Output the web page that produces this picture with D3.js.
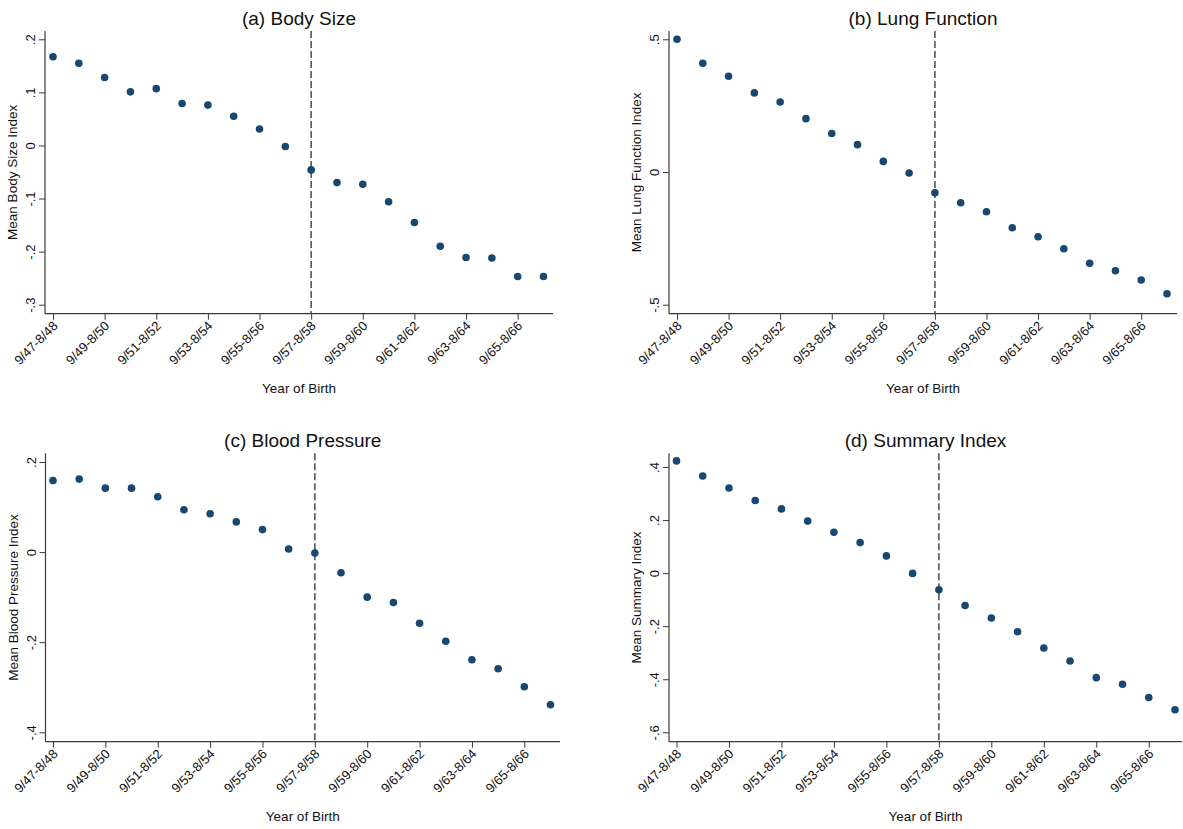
<!DOCTYPE html>
<html>
<head>
<meta charset="utf-8">
<script src="https://cdn.jsdelivr.net/npm/d3@7"></script>
<style>
  html, body { margin: 0; padding: 0; background: #fff; }
  svg { display: block; font-family: "Liberation Sans", Arial, Helvetica, sans-serif; }
</style>
</head>
<body>
<svg id="chart" width="1183" height="829"></svg>
<script>
// ---- data ----
const categories = ["9/47-8/48","9/48-8/49","9/49-8/50","9/50-8/51","9/51-8/52","9/52-8/53","9/53-8/54","9/54-8/55","9/55-8/56","9/56-8/57",
                    "9/57-8/58","9/58-8/59","9/59-8/60","9/60-8/61","9/61-8/62","9/62-8/63","9/63-8/64","9/64-8/65","9/65-8/66","9/66-8/67"];
const tickLabels = ["9/47-8/48","9/49-8/50","9/51-8/52","9/53-8/54","9/55-8/56","9/57-8/58","9/59-8/60","9/61-8/62","9/63-8/64","9/65-8/66"];
const cutoff = "9/57-8/58";

const bodySize      = [0.167, 0.155, 0.128, 0.101, 0.107, 0.079, 0.076, 0.055, 0.031, -0.002,
                       -0.046, -0.070, -0.073, -0.106, -0.145, -0.190, -0.211, -0.212, -0.247, -0.247];
const lungFunction  = [0.500, 0.410, 0.361, 0.298, 0.264, 0.201, 0.145, 0.103, 0.040, -0.004,
                       -0.078, -0.116, -0.150, -0.210, -0.244, -0.289, -0.344, -0.372, -0.407, -0.459];
const bloodPressure = [0.159, 0.162, 0.142, 0.142, 0.123, 0.094, 0.085, 0.067, 0.050, 0.007,
                       -0.002, -0.046, -0.100, -0.112, -0.158, -0.198, -0.239, -0.259, -0.299, -0.339];
const summaryIndex  = [0.423, 0.366, 0.321, 0.274, 0.242, 0.196, 0.154, 0.115, 0.065, -0.001,
                       -0.063, -0.122, -0.169, -0.221, -0.282, -0.331, -0.394, -0.419, -0.469, -0.515];

const ticksA = [-0.3, -0.2, -0.1, 0, 0.1, 0.2];
const ticksB = [-0.5, 0, 0.5];
const ticksC = [-0.4, -0.2, 0, 0.2];
const ticksD = [-0.6, -0.4, -0.2, 0, 0.2, 0.4];

const titles = ["(a) Body Size", "(b) Lung Function", "(c) Blood Pressure", "(d) Summary Index"];
const yTitles = ["Mean Body Size Index", "Mean Lung Function Index", "Mean Blood Pressure Index", "Mean Summary Index"];
const xTitle = "Year of Birth";

// ---- layout (positions/sizes) ----
const panels = [
  { values: bodySize,      ticks: ticksA, title: titles[0], yTitle: yTitles[0],
    axisX: 45,  x0: 53,  x1: 543.5, right: 553, top: 31,    bottom: 313.7, yTop: 39.3,  yBot: 304.7 },
  { values: lungFunction,  ticks: ticksB, title: titles[1], yTitle: yTitles[1],
    axisX: 669, x0: 677, x1: 1167,  right: 1177, top: 31,   bottom: 313.7, yTop: 39.3,  yBot: 304.7 },
  { values: bloodPressure, ticks: ticksC, title: titles[2], yTitle: yTitles[2],
    axisX: 45.5, x0: 53, x1: 550.5, right: 560, top: 453.3, bottom: 741.7, yTop: 462,   yBot: 732.3 },
  { values: summaryIndex,  ticks: ticksD, title: titles[3], yTitle: yTitles[3],
    axisX: 669, x0: 676.5, x1: 1175, right: 1182, top: 453.3, bottom: 741.7, yTop: 467, yBot: 732.3 }
];

const fmt = d => d === 0 ? "0" : String(+d.toFixed(2)).replace("0.", ".");
const svg = d3.select("#chart");
const axisColor = "#3a3a3a";
const dotColor = "#1a476f";

panels.forEach(p => {
  const g = svg.append("g");
  const x = d3.scalePoint().domain(categories).range([p.x0, p.x1]);
  const y = d3.scaleLinear()
    .domain([d3.min(p.ticks), d3.max(p.ticks)])
    .range([p.yBot, p.yTop]);

  // y axis
  const ya = g.append("g").attr("transform", `translate(${p.axisX},0)`)
    .call(d3.axisLeft(y).tickValues(p.ticks).tickFormat(fmt).tickSize(6).tickSizeOuter(0));
  ya.select(".domain").remove();
  ya.selectAll(".tick line").attr("stroke", axisColor);
  ya.selectAll(".tick text")
    .attr("x", null).attr("dy", null)
    .attr("text-anchor", "middle")
    .attr("transform", "translate(-10,0) rotate(-90)")
    .attr("fill", "#111")
    .style("font-size", "13px");
  g.append("line").attr("x1", p.axisX).attr("x2", p.axisX).attr("y1", p.top).attr("y2", p.bottom)
    .attr("stroke", axisColor).attr("stroke-width", 1.2);

  // x axis
  const xa = g.append("g").attr("transform", `translate(0,${p.bottom})`)
    .call(d3.axisBottom(x).tickValues(tickLabels).tickSize(6).tickSizeOuter(0));
  xa.select(".domain").remove();
  xa.selectAll(".tick line").attr("stroke", axisColor);
  xa.selectAll(".tick text")
    .attr("y", null).attr("dy", null)
    .attr("text-anchor", "end")
    .attr("transform", "translate(5,13) rotate(-45)")
    .attr("fill", "#111")
    .style("font-size", "13px");
  g.append("line").attr("x1", p.axisX).attr("x2", p.right).attr("y1", p.bottom).attr("y2", p.bottom)
    .attr("stroke", axisColor).attr("stroke-width", 1.2);

  // cutoff dashed line
  g.append("line")
    .attr("x1", x(cutoff)).attr("x2", x(cutoff))
    .attr("y1", p.top).attr("y2", p.bottom)
    .attr("stroke", "#555").attr("stroke-width", 1.6)
    .attr("stroke-dasharray", "7,3");

  // points
  g.append("g").selectAll("circle").data(p.values).enter().append("circle")
    .attr("cx", (d, i) => x(categories[i]))
    .attr("cy", d => y(d))
    .attr("r", 3.8)
    .attr("fill", dotColor);

  const cx = (p.axisX + p.right) / 2;
  // title
  g.append("text").attr("x", cx).attr("y", p.top - 6)
    .attr("text-anchor", "middle").style("font-size", "19px").attr("fill", "#111")
    .text(p.title);
  // x title
  g.append("text").attr("x", cx).attr("y", p.bottom + 79)
    .attr("text-anchor", "middle").style("font-size", "13.5px").attr("fill", "#111")
    .text(xTitle);
  // y title
  g.append("text")
    .attr("transform", `translate(${p.axisX - 28},${(p.top + p.bottom) / 2}) rotate(-90)`)
    .attr("text-anchor", "middle").style("font-size", "13.5px").attr("fill", "#111")
    .text(p.yTitle);
});
</script>
</body>
</html>
